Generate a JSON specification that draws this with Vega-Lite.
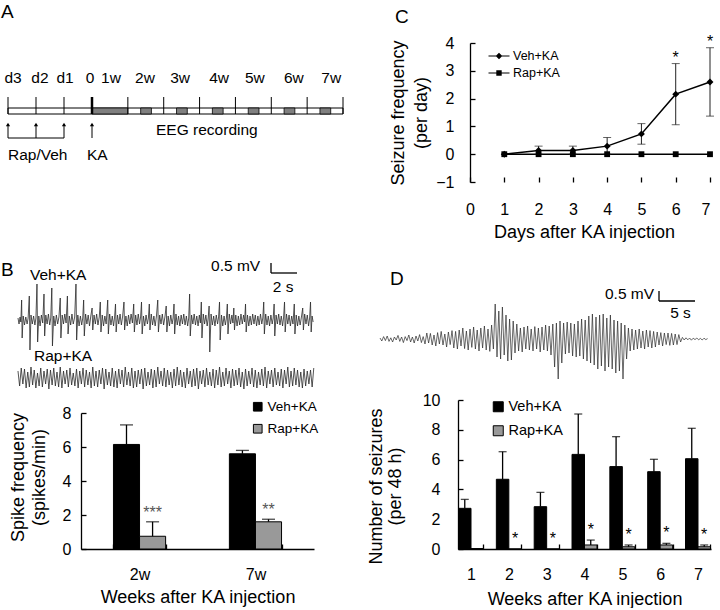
{
"$schema": "https://vega.github.io/schema/vega-lite/v6.json",
"padding": {"top": 2, "left": 0, "right": 0, "bottom": 0},
"background": "white",
"columns": 2,
"align": "none",
"spacing": 23,
"resolve": {"scale": {"color": "independent", "shape": "independent", "xOffset": "independent"}, "legend": {"color": "independent", "shape": "independent"}},
"datasets": {
"vehTrace": [{"t":0,"v":0.1},{"t":0.08,"v":-0.2},{"t":0.16,"v":0.15},{"t":0.22,"v":-0.1},{"t":0.28,"v":1.0},{"t":0.32,"v":-0.9},{"t":0.4,"v":0.2},{"t":0.5,"v":-0.25},{"t":0.6,"v":0.15},{"t":0.7,"v":-0.2},{"t":0.78,"v":0.1},{"t":0.87,"v":1.2},{"t":0.92,"v":-1.5},{"t":1.0,"v":0.25},{"t":1.1,"v":-0.2},{"t":1.2,"v":0.2},{"t":1.3,"v":-0.25},{"t":1.38,"v":0.1},{"t":1.46,"v":1.8},{"t":1.51,"v":-1.1},{"t":1.6,"v":0.2},{"t":1.7,"v":-0.3},{"t":1.8,"v":0.25},{"t":1.9,"v":-0.15},{"t":2.0,"v":1.3},{"t":2.05,"v":-0.8},{"t":2.14,"v":0.25},{"t":2.24,"v":-0.2},{"t":2.34,"v":0.3},{"t":2.44,"v":-0.25},{"t":2.52,"v":0.1},{"t":2.6,"v":1.6},{"t":2.65,"v":-1.3},{"t":2.75,"v":0.2},{"t":2.85,"v":-0.3},{"t":2.95,"v":0.25},{"t":3.05,"v":-0.2},{"t":3.15,"v":0.15},{"t":3.25,"v":1.1},{"t":3.3,"v":-0.9},{"t":3.4,"v":0.25},{"t":3.5,"v":-0.2},{"t":3.6,"v":0.3},{"t":3.7,"v":-0.15},{"t":3.8,"v":1.2},{"t":3.85,"v":-0.7},{"t":3.95,"v":0.2},{"t":4.05,"v":-0.25},{"t":4.15,"v":0.3},{"t":4.25,"v":-0.2},{"t":4.36,"v":0.15},{"t":4.46,"v":1.8},{"t":4.51,"v":-1.0},{"t":4.6,"v":0.25},{"t":4.7,"v":-0.3},{"t":4.8,"v":0.2},{"t":4.9,"v":-0.25},{"t":4.98,"v":0.1},{"t":5.05,"v":1.0},{"t":5.1,"v":-0.8},{"t":5.2,"v":0.3},{"t":5.3,"v":-0.2},{"t":5.4,"v":0.25},{"t":5.5,"v":-0.3},{"t":5.6,"v":0.2},{"t":5.7,"v":0.6},{"t":5.75,"v":-0.5},{"t":5.85,"v":0.25},{"t":5.95,"v":-0.2},{"t":6.05,"v":0.3},{"t":6.15,"v":-0.25},{"t":6.25,"v":0.15},{"t":6.33,"v":0.9},{"t":6.38,"v":-0.6},{"t":6.48,"v":0.25},{"t":6.58,"v":-0.3},{"t":6.68,"v":0.2},{"t":6.78,"v":-0.2},{"t":6.9,"v":1.0},{"t":6.95,"v":-0.7},{"t":7.05,"v":0.3},{"t":7.15,"v":-0.25},{"t":7.25,"v":0.2},{"t":7.35,"v":-0.3},{"t":7.43,"v":0.15},{"t":7.5,"v":0.8},{"t":7.55,"v":-0.6},{"t":7.65,"v":0.25},{"t":7.75,"v":-0.2},{"t":7.85,"v":0.3},{"t":7.95,"v":-0.25},{"t":8.05,"v":0.2},{"t":8.15,"v":0.9},{"t":8.2,"v":-0.5},{"t":8.3,"v":0.2},{"t":8.4,"v":-0.3},{"t":8.5,"v":0.25},{"t":8.6,"v":-0.2},{"t":8.7,"v":0.3},{"t":8.8,"v":-0.15},{"t":8.9,"v":0.8},{"t":8.95,"v":-0.6},{"t":9.05,"v":0.25},{"t":9.15,"v":-0.25},{"t":9.25,"v":0.3},{"t":9.35,"v":-0.2},{"t":9.43,"v":0.15},{"t":9.5,"v":0.9},{"t":9.55,"v":-0.7},{"t":9.65,"v":0.2},{"t":9.75,"v":-0.3},{"t":9.85,"v":0.25},{"t":9.95,"v":-0.2},{"t":10.03,"v":0.1},{"t":10.1,"v":0.8},{"t":10.15,"v":-0.5},{"t":10.25,"v":0.3},{"t":10.35,"v":-0.25},{"t":10.45,"v":0.2},{"t":10.55,"v":-0.3},{"t":10.65,"v":0.2},{"t":10.75,"v":1.0},{"t":10.8,"v":-0.6},{"t":10.9,"v":0.25},{"t":11.0,"v":-0.2},{"t":11.1,"v":0.3},{"t":11.2,"v":-0.25},{"t":11.3,"v":0.15},{"t":11.4,"v":0.7},{"t":11.45,"v":-0.6},{"t":11.55,"v":0.2},{"t":11.65,"v":-0.3},{"t":11.75,"v":0.25},{"t":11.85,"v":-0.2},{"t":11.93,"v":0.1},{"t":12.0,"v":0.8},{"t":12.05,"v":-0.7},{"t":12.15,"v":0.3},{"t":12.25,"v":-0.25},{"t":12.35,"v":0.2},{"t":12.45,"v":-0.3},{"t":12.55,"v":0.25},{"t":12.65,"v":-0.2},{"t":12.75,"v":0.3},{"t":12.85,"v":-0.25},{"t":12.95,"v":0.2},{"t":13.05,"v":-0.3},{"t":13.13,"v":0.1},{"t":13.2,"v":1.3},{"t":13.25,"v":-0.8},{"t":13.35,"v":0.25},{"t":13.45,"v":-0.2},{"t":13.55,"v":0.3},{"t":13.65,"v":-0.25},{"t":13.75,"v":0.2},{"t":13.85,"v":-0.3},{"t":13.95,"v":0.25},{"t":14.03,"v":-0.15},{"t":14.1,"v":0.9},{"t":14.15,"v":-0.9},{"t":14.25,"v":0.3},{"t":14.35,"v":-0.2},{"t":14.45,"v":0.25},{"t":14.55,"v":-0.3},{"t":14.63,"v":0.1},{"t":14.7,"v":0.7},{"t":14.75,"v":-1.6},{"t":14.85,"v":0.3},{"t":14.95,"v":-0.25},{"t":15.05,"v":0.2},{"t":15.15,"v":-0.3},{"t":15.25,"v":0.25},{"t":15.35,"v":-0.2},{"t":15.43,"v":0.15},{"t":15.5,"v":0.9},{"t":15.55,"v":-1.0},{"t":15.65,"v":0.25},{"t":15.75,"v":-0.3},{"t":15.85,"v":0.2},{"t":15.95,"v":-0.25},{"t":16.03,"v":0.1},{"t":16.1,"v":0.8},{"t":16.15,"v":-0.7},{"t":16.25,"v":0.3},{"t":16.35,"v":-0.2},{"t":16.45,"v":0.25},{"t":16.53,"v":-0.15},{"t":16.6,"v":0.6},{"t":16.65,"v":-0.5},{"t":16.75,"v":0.25},{"t":16.85,"v":-0.3},{"t":16.95,"v":0.2},{"t":17.05,"v":-0.25},{"t":17.15,"v":0.3},{"t":17.25,"v":-0.2},{"t":17.35,"v":0.25},{"t":17.43,"v":-0.1},{"t":17.5,"v":0.8},{"t":17.55,"v":-0.6},{"t":17.65,"v":0.25},{"t":17.75,"v":-0.3},{"t":17.85,"v":0.2},{"t":17.95,"v":-0.25},{"t":18.05,"v":0.3},{"t":18.15,"v":-0.2},{"t":18.25,"v":0.25},{"t":18.35,"v":-0.3},{"t":18.45,"v":0.2},{"t":18.55,"v":-0.25},{"t":18.65,"v":0.3},{"t":18.75,"v":-0.2},{"t":18.83,"v":0.1},{"t":18.9,"v":0.9},{"t":18.95,"v":-0.7},{"t":19.05,"v":0.3},{"t":19.15,"v":-0.25},{"t":19.25,"v":0.2},{"t":19.35,"v":-0.3},{"t":19.45,"v":0.25},{"t":19.55,"v":-0.2},{"t":19.63,"v":0.1},{"t":19.7,"v":0.8},{"t":19.75,"v":-0.8},{"t":19.85,"v":0.25},{"t":19.95,"v":-0.2},{"t":20.05,"v":0.3},{"t":20.15,"v":-0.25},{"t":20.25,"v":0.2},{"t":20.35,"v":-0.3},{"t":20.43,"v":0.15},{"t":20.5,"v":0.9},{"t":20.55,"v":-0.6},{"t":20.65,"v":0.3},{"t":20.75,"v":-0.2},{"t":20.85,"v":0.25},{"t":20.95,"v":-0.3},{"t":21.05,"v":0.2},{"t":21.15,"v":-0.2},{"t":21.25,"v":0.8},{"t":21.3,"v":-0.7},{"t":21.4,"v":0.25},{"t":21.5,"v":-0.3},{"t":21.6,"v":0.2},{"t":21.7,"v":-0.25},{"t":21.8,"v":0.15},{"t":21.9,"v":0.6},{"t":21.95,"v":-0.5},{"t":22.05,"v":0.3},{"t":22.15,"v":-0.2},{"t":22.25,"v":0.25},{"t":22.35,"v":-0.3},{"t":22.43,"v":0.1},{"t":22.5,"v":0.9},{"t":22.55,"v":-0.6},{"t":22.62,"v":0.2},{"t":22.7,"v":-0.1}],
"rapTrace": [{"t":0,"v":0.35},{"t":0.125,"v":-0.4},{"t":0.25,"v":0.5},{"t":0.375,"v":-0.3},{"t":0.5,"v":0.45},{"t":0.625,"v":-0.5},{"t":0.75,"v":0.3},{"t":0.875,"v":-0.45},{"t":1,"v":0.55},{"t":1.125,"v":-0.35},{"t":1.25,"v":0.4},{"t":1.375,"v":-0.5},{"t":1.5,"v":0.25},{"t":1.625,"v":-0.4},{"t":1.75,"v":0.5},{"t":1.875,"v":-0.45},{"t":2,"v":0.35},{"t":2.125,"v":-0.3},{"t":2.25,"v":0.45},{"t":2.375,"v":-0.55},{"t":2.5,"v":0.4},{"t":2.625,"v":-0.35},{"t":2.75,"v":0.5},{"t":2.875,"v":-0.4},{"t":3,"v":0.3},{"t":3.125,"v":-0.45},{"t":3.25,"v":0.55},{"t":3.375,"v":-0.5},{"t":3.5,"v":0.35},{"t":3.625,"v":-0.3},{"t":3.75,"v":0.4},{"t":3.875,"v":-0.45},{"t":4,"v":0.5},{"t":4.125,"v":-0.35},{"t":4.25,"v":0.25},{"t":4.375,"v":-0.4},{"t":4.5,"v":0.45},{"t":4.625,"v":-0.5},{"t":4.75,"v":0.35},{"t":4.875,"v":-0.3},{"t":5,"v":0.5},{"t":5.125,"v":-0.45},{"t":5.25,"v":0.4},{"t":5.375,"v":-0.35},{"t":5.5,"v":0.3},{"t":5.625,"v":-0.5},{"t":5.75,"v":0.55},{"t":5.875,"v":-0.4},{"t":6,"v":0.35},{"t":6.125,"v":-0.45},{"t":6.25,"v":0.4},{"t":6.375,"v":-0.3},{"t":6.5,"v":0.5},{"t":6.625,"v":-0.55},{"t":6.75,"v":0.45},{"t":6.875,"v":-0.35},{"t":7,"v":0.3},{"t":7.125,"v":-0.4},{"t":7.25,"v":0.5},{"t":7.375,"v":-0.45},{"t":7.5,"v":0.35},{"t":7.625,"v":-0.5},{"t":7.75,"v":0.45},{"t":7.875,"v":-0.3},{"t":8,"v":0.4},{"t":8.125,"v":-0.45},{"t":8.25,"v":0.55},{"t":8.375,"v":-0.35},{"t":8.5,"v":0.3},{"t":8.625,"v":-0.4},{"t":8.75,"v":0.5},{"t":8.875,"v":-0.5},{"t":9,"v":0.35},{"t":9.125,"v":-0.45},{"t":9.25,"v":0.4},{"t":9.375,"v":-0.3},{"t":9.5,"v":0.45},{"t":9.625,"v":-0.55},{"t":9.75,"v":0.5},{"t":9.875,"v":-0.4},{"t":10,"v":0.3},{"t":10.125,"v":-0.35},{"t":10.25,"v":0.45},{"t":10.375,"v":-0.5},{"t":10.5,"v":0.4},{"t":10.625,"v":-0.45},{"t":10.75,"v":0.55},{"t":10.875,"v":-0.3},{"t":11,"v":0.35},{"t":11.125,"v":-0.4},{"t":11.25,"v":0.5},{"t":11.375,"v":-0.45},{"t":11.5,"v":0.4},{"t":11.625,"v":-0.35},{"t":11.75,"v":0.3},{"t":11.875,"v":-0.5},{"t":12,"v":0.45},{"t":12.125,"v":-0.4},{"t":12.25,"v":0.55},{"t":12.375,"v":-0.35},{"t":12.5,"v":0.4},{"t":12.625,"v":-0.45},{"t":12.75,"v":0.3},{"t":12.875,"v":-0.5},{"t":13,"v":0.5},{"t":13.125,"v":-0.3},{"t":13.25,"v":0.35},{"t":13.375,"v":-0.45},{"t":13.5,"v":0.45},{"t":13.625,"v":-0.4},{"t":13.75,"v":0.5},{"t":13.875,"v":-0.55},{"t":14,"v":0.35},{"t":14.125,"v":-0.3},{"t":14.25,"v":0.4},{"t":14.375,"v":-0.45},{"t":14.5,"v":0.5},{"t":14.625,"v":-0.35},{"t":14.75,"v":0.3},{"t":14.875,"v":-0.4},{"t":15,"v":0.45},{"t":15.125,"v":-0.5},{"t":15.25,"v":0.4},{"t":15.375,"v":-0.35},{"t":15.5,"v":0.55},{"t":15.625,"v":-0.45},{"t":15.75,"v":0.3},{"t":15.875,"v":-0.4},{"t":16,"v":0.5},{"t":16.125,"v":-0.3},{"t":16.25,"v":0.35},{"t":16.375,"v":-0.5},{"t":16.5,"v":0.45},{"t":16.625,"v":-0.4},{"t":16.75,"v":0.4},{"t":16.875,"v":-0.35},{"t":17,"v":0.5},{"t":17.125,"v":-0.45},{"t":17.25,"v":0.3},{"t":17.375,"v":-0.55},{"t":17.5,"v":0.45},{"t":17.625,"v":-0.4},{"t":17.75,"v":0.35},{"t":17.875,"v":-0.3},{"t":18,"v":0.5},{"t":18.125,"v":-0.45},{"t":18.25,"v":0.4},{"t":18.375,"v":-0.5},{"t":18.5,"v":0.3},{"t":18.625,"v":-0.35},{"t":18.75,"v":0.45},{"t":18.875,"v":-0.4},{"t":19,"v":0.55},{"t":19.125,"v":-0.5},{"t":19.25,"v":0.35},{"t":19.375,"v":-0.3},{"t":19.5,"v":0.4},{"t":19.625,"v":-0.45},{"t":19.75,"v":0.5},{"t":19.875,"v":-0.35},{"t":20,"v":0.3},{"t":20.125,"v":-0.4},{"t":20.25,"v":0.45},{"t":20.375,"v":-0.5},{"t":20.5,"v":0.4},{"t":20.625,"v":-0.3},{"t":20.75,"v":0.55},{"t":20.875,"v":-0.45},{"t":21,"v":0.35},{"t":21.125,"v":-0.4},{"t":21.25,"v":0.5},{"t":21.375,"v":-0.35},{"t":21.5,"v":0.4},{"t":21.625,"v":-0.45},{"t":21.75,"v":0.3},{"t":21.875,"v":-0.5},{"t":22,"v":0.45},{"t":22.125,"v":-0.4},{"t":22.25,"v":0.35},{"t":22.375,"v":-0.3},{"t":22.5,"v":0.4},{"t":22.625,"v":-0.45},{"t":22.75,"v":0.5}],
"seizTrace": [{"t":0,"v":0.05},{"t":0.25,"v":-0.1},{"t":0.5,"v":0.12},{"t":0.75,"v":-0.08},{"t":1,"v":0.15},{"t":1.25,"v":-0.12},{"t":1.5,"v":0.06},{"t":1.75,"v":-0.15},{"t":2,"v":0.1},{"t":2.25,"v":-0.05},{"t":2.5,"v":0.18},{"t":2.75,"v":-0.12},{"t":3,"v":0.1},{"t":3.25,"v":-0.18},{"t":3.5,"v":0.12},{"t":3.75,"v":-0.08},{"t":4,"v":0.2},{"t":4.25,"v":-0.15},{"t":4.5,"v":0.1},{"t":4.75,"v":-0.2},{"t":5,"v":0.15},{"t":5.25,"v":-0.1},{"t":5.5,"v":0.22},{"t":5.75,"v":-0.18},{"t":6,"v":0.12},{"t":6.25,"v":-0.25},{"t":6.5,"v":0.3},{"t":6.75,"v":-0.2},{"t":7,"v":0.28},{"t":7.25,"v":-0.3},{"t":7.5,"v":0.2},{"t":7.75,"v":-0.35},{"t":8,"v":0.32},{"t":8.25,"v":-0.25},{"t":8.5,"v":0.38},{"t":8.75,"v":-0.3},{"t":9,"v":0.25},{"t":9.25,"v":-0.4},{"t":9.5,"v":0.35},{"t":9.75,"v":-0.28},{"t":10,"v":0.42},{"t":10.25,"v":-0.45},{"t":10.5,"v":0.38},{"t":10.75,"v":-0.5},{"t":11,"v":0.45},{"t":11.25,"v":-0.35},{"t":11.5,"v":0.55},{"t":11.75,"v":-0.48},{"t":12,"v":0.4},{"t":12.25,"v":-0.55},{"t":12.5,"v":0.5},{"t":12.75,"v":-0.42},{"t":13,"v":0.6},{"t":13.25,"v":-0.5},{"t":13.5,"v":0.45},{"t":13.75,"v":-0.6},{"t":14,"v":0.55},{"t":14.25,"v":-0.45},{"t":14.5,"v":0.65},{"t":14.75,"v":-0.55},{"t":15,"v":0.5},{"t":15.25,"v":-0.62},{"t":15.5,"v":0.7},{"t":15.75,"v":-0.5},{"t":16,"v":1.75},{"t":16.25,"v":-0.9},{"t":16.5,"v":1.4},{"t":16.75,"v":-1.0},{"t":17,"v":1.6},{"t":17.25,"v":-0.8},{"t":17.5,"v":1.2},{"t":17.75,"v":-1.1},{"t":18,"v":1.0},{"t":18.25,"v":-1.05},{"t":18.5,"v":0.9},{"t":18.75,"v":-0.7},{"t":19,"v":0.75},{"t":19.25,"v":-0.6},{"t":19.5,"v":0.55},{"t":19.75,"v":-0.65},{"t":20,"v":0.6},{"t":20.25,"v":-0.5},{"t":20.5,"v":0.65},{"t":20.75,"v":-0.55},{"t":21,"v":0.5},{"t":21.25,"v":-0.6},{"t":21.5,"v":0.62},{"t":21.75,"v":-0.5},{"t":22,"v":0.55},{"t":22.25,"v":-0.65},{"t":22.5,"v":0.6},{"t":22.75,"v":-0.55},{"t":23,"v":0.7},{"t":23.25,"v":-0.6},{"t":23.5,"v":0.65},{"t":23.75,"v":-0.8},{"t":24,"v":0.75},{"t":24.25,"v":-1.4},{"t":24.5,"v":0.8},{"t":24.75,"v":-2.0},{"t":25,"v":0.9},{"t":25.25,"v":-1.2},{"t":25.5,"v":0.8},{"t":25.75,"v":-0.75},{"t":26,"v":0.85},{"t":26.25,"v":-0.7},{"t":26.5,"v":0.8},{"t":26.75,"v":-0.85},{"t":27,"v":0.75},{"t":27.25,"v":-0.9},{"t":27.5,"v":0.9},{"t":27.75,"v":-0.85},{"t":28,"v":1.0},{"t":28.25,"v":-1.0},{"t":28.5,"v":0.95},{"t":28.75,"v":-1.1},{"t":29,"v":1.15},{"t":29.25,"v":-1.2},{"t":29.5,"v":1.25},{"t":29.75,"v":-1.3},{"t":30,"v":1.1},{"t":30.25,"v":-1.5},{"t":30.5,"v":1.2},{"t":30.75,"v":-1.35},{"t":31,"v":1.25},{"t":31.25,"v":-1.6},{"t":31.5,"v":1.05},{"t":31.75,"v":-1.4},{"t":32,"v":1.2},{"t":32.25,"v":-1.5},{"t":32.5,"v":0.95},{"t":32.75,"v":-1.7},{"t":33,"v":0.9},{"t":33.25,"v":-1.6},{"t":33.5,"v":0.8},{"t":33.75,"v":-2.0},{"t":34,"v":0.7},{"t":34.25,"v":-1.0},{"t":34.5,"v":0.55},{"t":34.75,"v":-0.6},{"t":35,"v":0.5},{"t":35.25,"v":-0.55},{"t":35.5,"v":0.45},{"t":35.75,"v":-0.5},{"t":36,"v":0.5},{"t":36.25,"v":-0.45},{"t":36.5,"v":0.4},{"t":36.75,"v":-0.5},{"t":37,"v":0.45},{"t":37.25,"v":-0.4},{"t":37.5,"v":0.42},{"t":37.75,"v":-0.45},{"t":38,"v":0.38},{"t":38.25,"v":-0.4},{"t":38.5,"v":0.35},{"t":38.75,"v":-0.3},{"t":39,"v":0.32},{"t":39.25,"v":-0.35},{"t":39.5,"v":0.3},{"t":39.75,"v":-0.28},{"t":40,"v":0.3},{"t":40.25,"v":-0.32},{"t":40.5,"v":0.28},{"t":40.75,"v":-0.3},{"t":41,"v":0.25},{"t":41.25,"v":-0.28},{"t":41.5,"v":0.22},{"t":41.75,"v":-0.15},{"t":42,"v":0.08},{"t":42.25,"v":-0.05},{"t":42.5,"v":0.06},{"t":42.75,"v":-0.04},{"t":43,"v":0.05},{"t":43.25,"v":-0.06},{"t":43.5,"v":0.04},{"t":43.75,"v":-0.03},{"t":44,"v":0.05},{"t":44.25,"v":-0.04},{"t":44.5,"v":0.03},{"t":44.75,"v":-0.05},{"t":45,"v":0.04},{"t":45.25,"v":-0.03},{"t":45.5,"v":0.02}]
},
"concat": [
{
"columns": 1, "align": "none", "spacing": 0,
"resolve": {"scale": {"color": "independent", "shape": "independent", "xOffset": "independent"}, "legend": {"color": "independent", "shape": "independent"}},
"concat": [
{
"width": 262, "height": 212,
"layer": [
{"data": {"values": [{"label": "A", "x": -3.25}]},
 "mark": {"type": "text", "fontSize": 19, "align": "left", "baseline": "middle"},
 "encoding": {"x": {"field": "x", "type": "quantitative", "scale": {"domain": [-3, 0, 49], "range": [-73, 11, 262], "nice": false, "zero": false}, "axis": null},
  "y": {"datum": 24.3, "type": "quantitative", "scale": {"domain": [0, 21.2], "nice": false, "zero": false}, "axis": null},
  "text": {"field": "label"}}},
{"data": {"values": [{"label": "d3", "x": -2.82}, {"label": "d2", "x": -1.86}, {"label": "d1", "x": -0.96}, {"label": "0", "x": -0.07}, {"label": "1w", "x": 3.7}, {"label": "2w", "x": 10.35}, {"label": "3w", "x": 17.2}, {"label": "4w", "x": 24.8}, {"label": "5w", "x": 31.8}, {"label": "6w", "x": 39.4}, {"label": "7w", "x": 46.7}]},
 "mark": {"type": "text", "fontSize": 15.5, "align": "center", "baseline": "middle"},
 "encoding": {"x": {"field": "x", "type": "quantitative", "axis": null}, "y": {"datum": 17.7, "type": "quantitative", "axis": null}, "text": {"field": "label"}}},
{"data": {"values": [{"from": -3, "to": 49}]},
 "mark": {"type": "rect", "fill": "white", "stroke": "black", "strokeWidth": 1},
 "encoding": {"x": {"field": "from", "type": "quantitative", "axis": null}, "x2": {"field": "to"}, "y": {"datum": 14.7, "type": "quantitative", "axis": null}, "y2": {"datum": 14.1}}},
{"data": {"values": [{"from": 0, "to": 7}, {"from": 9.5, "to": 11.6}, {"from": 16.5, "to": 18.6}, {"from": 23.5, "to": 25.6}, {"from": 30.5, "to": 32.6}, {"from": 37.5, "to": 39.6}, {"from": 44.5, "to": 46.6}]},
 "mark": {"type": "rect", "fill": "#808080", "stroke": "black", "strokeWidth": 0.8},
 "encoding": {"x": {"field": "from", "type": "quantitative", "axis": null}, "x2": {"field": "to"}, "y": {"datum": 14.7, "type": "quantitative", "axis": null}, "y2": {"datum": 14.1}}},
{"data": {"values": [{"x": -3}, {"x": -2}, {"x": -1}, {"x": 0}, {"x": 7}, {"x": 14}, {"x": 21}, {"x": 28}, {"x": 35}, {"x": 42}, {"x": 49}]},
 "mark": {"type": "rule", "color": "black"},
 "encoding": {"x": {"field": "x", "type": "quantitative", "axis": null}, "y": {"datum": 15.8, "type": "quantitative", "axis": null}, "y2": {"datum": 14.1},
  "strokeWidth": {"condition": {"test": "datum.x === 0", "value": 2.5}, "value": 1}}},
{"data": {"values": [{"x": -3}, {"x": -2}, {"x": -1}, {"x": 0}]},
 "mark": {"type": "rule", "color": "black", "strokeWidth": 1},
 "encoding": {"x": {"field": "x", "type": "quantitative", "axis": null}, "y": {"datum": 13.1, "type": "quantitative", "axis": null}, "y2": {"datum": 11.7}}},
{"data": {"values": [{"x": -3}, {"x": -2}, {"x": -1}, {"x": 0}]},
 "mark": {"type": "point", "shape": "triangle-up", "filled": true, "color": "black", "size": 18, "opacity": 1},
 "encoding": {"x": {"field": "x", "type": "quantitative", "axis": null}, "y": {"datum": 13.05, "type": "quantitative", "axis": null}}},
{"data": {"values": [{"from": -3, "to": -1}]},
 "mark": {"type": "rule", "color": "black", "strokeWidth": 1},
 "encoding": {"x": {"field": "from", "type": "quantitative", "axis": null}, "x2": {"field": "to"}, "y": {"datum": 11.7, "type": "quantitative", "axis": null}}},
{"data": {"values": [{"label": "Rap/Veh", "x": -3, "y": 10.0}, {"label": "KA", "x": -0.18, "y": 10.0}, {"label": "EEG recording", "x": 12.5, "y": 12.5}]},
 "mark": {"type": "text", "fontSize": 15.5, "align": "left", "baseline": "middle"},
 "encoding": {"x": {"field": "x", "type": "quantitative", "axis": null}, "y": {"field": "y", "type": "quantitative", "axis": null}, "text": {"field": "label"}}}
]
},
{
"width": 232, "height": 145,
"encoding": {
 "x": {"field": "t", "type": "quantitative", "scale": {"domain": [4.846, 22.69], "nice": false, "zero": false}, "axis": null},
 "y": {"field": "v", "type": "quantitative", "scale": {"domain": [-4, 3.25], "nice": false, "zero": false}, "axis": null}
},
"layer": [
{"data": {"name": "vehTrace"}, "mark": {"type": "line", "strokeWidth": 0.8, "color": "#2a2a2a"}},
{"data": {"name": "rapTrace"}, "mark": {"type": "line", "strokeWidth": 0.8, "color": "#2a2a2a", "yOffset": 58}},
{"data": {"values": [{"t": 19.46, "t2": 19.46, "v": 2.35, "v2": 2.85}, {"t": 19.46, "t2": 21.46, "v": 2.35, "v2": 2.35}]},
 "mark": {"type": "rule", "color": "black", "strokeWidth": 1.3},
 "encoding": {"x2": {"field": "t2"}, "y2": {"field": "v2"}}},
{"data": {"values": [{"label": "B", "t": -1.31, "v": 2.5}]},
 "mark": {"type": "text", "fontSize": 19, "align": "left", "baseline": "middle"},
 "encoding": {"text": {"field": "label"}}},
{"data": {"values": [{"label": "Veh+KA", "t": 0.92, "v": 2.25}, {"label": "Rap+KA", "t": 1.23, "v": -1.8}, {"label": "0.5 mV", "t": 14.85, "v": 2.7}, {"label": "2 s", "t": 19.6, "v": 1.65}]},
 "mark": {"type": "text", "fontSize": 15.5, "align": "left", "baseline": "middle"},
 "encoding": {"text": {"field": "label"}}}
]
},
{
"width": 233, "height": 136,
"data": {"values": [
 {"week": "2w", "group": "Veh+KA", "mean": 6.15, "upper": 7.3, "star": ""},
 {"week": "2w", "group": "Rap+KA", "mean": 0.75, "upper": 1.6, "star": "***"},
 {"week": "7w", "group": "Veh+KA", "mean": 5.6, "upper": 5.8, "star": ""},
 {"week": "7w", "group": "Rap+KA", "mean": 1.6, "upper": 1.75, "star": "**"}
]},
"encoding": {
 "x": {"field": "week", "type": "nominal", "scale": {"paddingInner": 0.55, "paddingOuter": 0.28},
  "axis": {"title": "Weeks after KA injection", "tickBand": "extent", "labelAngle": 0, "labelPadding": 22, "titlePadding": 6, "labelOverlap": false}},
 "xOffset": {"field": "group", "type": "nominal", "sort": ["Veh+KA", "Rap+KA"], "scale": {"paddingInner": 0, "paddingOuter": 0}}
},
"layer": [
{"mark": {"type": "bar", "stroke": "black", "strokeWidth": 1},
 "encoding": {
  "y": {"field": "mean", "type": "quantitative", "scale": {"domain": [0, 8], "nice": false},
   "axis": {"title": ["Spike frequency", "(spikes/min)"], "values": [0, 2, 4, 6, 8], "tickCount": 12, "format": "d", "labelOverlap": false, "labelPadding": 15, "titlePadding": 14, "titleLineHeight": 21, "titleY": 64}},
  "color": {"field": "group", "type": "nominal", "scale": {"domain": ["Veh+KA", "Rap+KA"], "range": ["#000000", "#999999"]},
   "legend": {"title": null, "orient": "none", "legendX": 170, "legendY": -13, "symbolType": "square", "symbolSize": 75, "symbolStrokeColor": "black", "symbolStrokeWidth": 1, "labelFontSize": 13.5, "labelOffset": 3, "rowPadding": 7}}}},
{"mark": {"type": "rule", "color": "black", "strokeWidth": 1.3},
 "encoding": {"y": {"field": "mean", "type": "quantitative"}, "y2": {"field": "upper"}}},
{"mark": {"type": "tick", "orient": "horizontal", "color": "black", "size": 13, "thickness": 1.3},
 "encoding": {"y": {"field": "upper", "type": "quantitative"}}},
{"transform": [{"filter": "datum.star != ''"}],
 "mark": {"type": "text", "color": "#555555", "fontSize": 16, "baseline": "alphabetic", "dy": -4},
 "encoding": {"y": {"field": "upper", "type": "quantitative"}, "text": {"field": "star"}}}
]
}
]
},
{
"columns": 1, "align": "none", "spacing": 0,
"resolve": {"scale": {"color": "independent", "shape": "independent", "xOffset": "independent"}, "legend": {"color": "independent", "shape": "independent"}},
"concat": [
{
"width": 252, "height": 139,
"data": {"values": [
 {"day": 1, "group": "Veh+KA", "mean": 0, "lo": 0, "hi": 0, "star": ""},
 {"day": 2, "group": "Veh+KA", "mean": 0.13, "lo": 0, "hi": 0.29, "star": ""},
 {"day": 3, "group": "Veh+KA", "mean": 0.13, "lo": 0, "hi": 0.29, "star": ""},
 {"day": 4, "group": "Veh+KA", "mean": 0.29, "lo": 0, "hi": 0.6, "star": ""},
 {"day": 5, "group": "Veh+KA", "mean": 0.73, "lo": 0.36, "hi": 1.1, "star": ""},
 {"day": 6, "group": "Veh+KA", "mean": 2.16, "lo": 1.06, "hi": 3.26, "star": "*"},
 {"day": 7, "group": "Veh+KA", "mean": 2.6, "lo": 1.37, "hi": 3.83, "star": "*"},
 {"day": 1, "group": "Rap+KA", "mean": 0, "lo": 0, "hi": 0, "star": ""},
 {"day": 2, "group": "Rap+KA", "mean": 0, "lo": 0, "hi": 0, "star": ""},
 {"day": 3, "group": "Rap+KA", "mean": 0, "lo": 0, "hi": 0, "star": ""},
 {"day": 4, "group": "Rap+KA", "mean": 0, "lo": 0, "hi": 0, "star": ""},
 {"day": 5, "group": "Rap+KA", "mean": 0, "lo": 0, "hi": 0, "star": ""},
 {"day": 6, "group": "Rap+KA", "mean": 0, "lo": 0, "hi": 0, "star": ""},
 {"day": 7, "group": "Rap+KA", "mean": 0, "lo": 0, "hi": 0, "star": ""}
]},
"encoding": {
 "x": {"field": "day", "type": "quantitative", "scale": {"domain": [-0.35, 7], "nice": false, "zero": false},
  "axis": {"title": "Days after KA injection", "values": [0, 1, 2, 3, 4, 5, 6, 7], "tickCount": 12, "format": "d", "domain": false, "labelOverlap": false, "labelPadding": 24, "titlePadding": 6}}
},
"layer": [
{"mark": {"type": "line", "color": "black", "strokeWidth": 1.5},
 "encoding": {"y": {"field": "mean", "type": "quantitative", "scale": {"domain": [-1, 4], "nice": false, "zero": false},
   "axis": {"title": ["Seizure frequency", "(per day)"], "values": [-1, 0, 1, 2, 3, 4], "tickCount": 12, "format": "d", "labelOverlap": false, "offset": -12, "labelPadding": 21, "titlePadding": 5, "titleLineHeight": 23}},
  "detail": {"field": "group"}}},
{"data": {"values": [{}]},
 "mark": {"type": "rule", "color": "black", "strokeWidth": 1.3},
 "encoding": {"x": {"datum": 0, "type": "quantitative"}, "x2": {"datum": 7}, "y": {"datum": -1, "type": "quantitative"}}},
{"transform": [{"filter": "datum.hi > datum.lo"}],
 "mark": {"type": "rule", "color": "#222222", "strokeWidth": 1},
 "encoding": {"y": {"field": "lo", "type": "quantitative"}, "y2": {"field": "hi"}}},
{"transform": [{"filter": "datum.hi > datum.lo"}],
 "mark": {"type": "tick", "orient": "horizontal", "color": "#222222", "size": 8, "thickness": 1},
 "encoding": {"y": {"field": "hi", "type": "quantitative"}}},
{"transform": [{"filter": "datum.hi > datum.lo"}],
 "mark": {"type": "tick", "orient": "horizontal", "color": "#222222", "size": 8, "thickness": 1},
 "encoding": {"y": {"field": "lo", "type": "quantitative"}}},
{"transform": [{"filter": "datum.group === 'Veh+KA'"}],
 "mark": {"type": "point", "shape": "diamond", "filled": true, "color": "black", "size": 48, "opacity": 1},
 "encoding": {"y": {"field": "mean", "type": "quantitative"}}},
{"transform": [{"filter": "datum.group === 'Rap+KA'"}],
 "mark": {"type": "point", "shape": "square", "filled": true, "color": "black", "size": 34, "opacity": 1},
 "encoding": {"y": {"field": "mean", "type": "quantitative"}}},
{"mark": {"type": "point", "filled": true, "color": "black", "size": 144, "opacity": 0},
 "encoding": {"y": {"field": "mean", "type": "quantitative"},
  "shape": {"field": "group", "type": "nominal", "scale": {"domain": ["Veh+KA", "Rap+KA"], "range": ["M-1.75,-0.1H1.75V0.1H-1.75ZM0,-0.55L0.55,0L0,0.55L-0.55,0Z", "M-1.75,-0.1H1.75V0.1H-1.75ZM-0.45,-0.45H0.45V0.45H-0.45Z"]},
   "legend": {"title": null, "orient": "none", "legendX": 34, "legendY": 6, "symbolSize": 144, "symbolOpacity": 1, "symbolFillColor": "black", "labelFontSize": 12.5, "labelOffset": 7, "rowPadding": 3}}}},
{"transform": [{"filter": "datum.star != ''"}],
 "mark": {"type": "text", "color": "black", "fontSize": 16, "baseline": "alphabetic", "dy": -1},
 "encoding": {"y": {"field": "hi", "type": "quantitative"}, "text": {"field": "star"}}},
{"data": {"values": [{"label": "C", "day": -2.19, "mean": 4.94}]},
 "mark": {"type": "text", "color": "black", "fontSize": 19, "align": "left", "baseline": "middle"},
 "encoding": {"y": {"field": "mean", "type": "quantitative"}, "text": {"field": "label"}}}
]
},
{
"width": 252, "height": 151,
"encoding": {
 "x": {"field": "t", "type": "quantitative", "scale": {"domain": [10.833, 45.833], "nice": false, "zero": false}, "axis": null},
 "y": {"field": "v", "type": "quantitative", "scale": {"domain": [-2.65, 4.9], "nice": false, "zero": false}, "axis": null}
},
"layer": [
{"data": {"name": "seizTrace"}, "mark": {"type": "line", "strokeWidth": 0.7, "color": "#2a2a2a"}},
{"data": {"values": [{"t": 38.75, "t2": 38.75, "v": 1.9, "v2": 2.4}, {"t": 38.75, "t2": 43.75, "v": 1.9, "v2": 1.9}]},
 "mark": {"type": "rule", "color": "black", "strokeWidth": 1.3},
 "encoding": {"x2": {"field": "t2"}, "y2": {"field": "v2"}}},
{"data": {"values": [{"label": "D", "t": 1.39, "v": 3.0}]},
 "mark": {"type": "text", "fontSize": 19, "align": "left", "baseline": "middle"},
 "encoding": {"text": {"field": "label"}}},
{"data": {"values": [{"label": "0.5 mV", "t": 31.25, "v": 2.25}, {"label": "5 s", "t": 40.3, "v": 1.3}]},
 "mark": {"type": "text", "fontSize": 15.5, "align": "left", "baseline": "middle"},
 "encoding": {"text": {"field": "label"}}}
]
},
{
"width": 253, "height": 149,
"data": {"values": [
 {"week": "1", "group": "Veh+KA", "mean": 2.73, "upper": 3.33, "star": ""},
 {"week": "2", "group": "Veh+KA", "mean": 4.68, "upper": 6.53, "star": ""},
 {"week": "3", "group": "Veh+KA", "mean": 2.84, "upper": 3.8, "star": ""},
 {"week": "4", "group": "Veh+KA", "mean": 6.35, "upper": 9.06, "star": ""},
 {"week": "5", "group": "Veh+KA", "mean": 5.53, "upper": 7.54, "star": ""},
 {"week": "6", "group": "Veh+KA", "mean": 5.19, "upper": 6.02, "star": ""},
 {"week": "7", "group": "Veh+KA", "mean": 6.06, "upper": 8.1, "star": ""},
 {"week": "1", "group": "Rap+KA", "mean": 0.03, "upper": 0.03, "star": ""},
 {"week": "2", "group": "Rap+KA", "mean": 0, "upper": 0, "star": "*"},
 {"week": "3", "group": "Rap+KA", "mean": 0, "upper": 0, "star": "*"},
 {"week": "4", "group": "Rap+KA", "mean": 0.27, "upper": 0.6, "star": "*"},
 {"week": "5", "group": "Rap+KA", "mean": 0.15, "upper": 0.27, "star": "*"},
 {"week": "6", "group": "Rap+KA", "mean": 0.27, "upper": 0.38, "star": "*"},
 {"week": "7", "group": "Rap+KA", "mean": 0.15, "upper": 0.27, "star": "*"}
]},
"encoding": {
 "x": {"field": "week", "type": "nominal", "scale": {"paddingInner": 0.34, "paddingOuter": 0.014},
  "axis": {"title": "Weeks after KA injection", "tickBand": "extent", "labelAngle": 0, "labelOverlap": false, "labelPadding": 22, "titlePadding": 8}},
 "xOffset": {"field": "group", "type": "nominal", "sort": ["Veh+KA", "Rap+KA"], "scale": {"paddingInner": 0, "paddingOuter": 0}}
},
"layer": [
{"mark": {"type": "bar", "stroke": "black", "strokeWidth": 1},
 "encoding": {
  "y": {"field": "mean", "type": "quantitative", "scale": {"domain": [0, 10], "nice": false},
   "axis": {"title": ["Number of seizures", "(per 48 h)"], "values": [0, 2, 4, 6, 8, 10], "tickCount": 12, "format": "d", "labelOverlap": false, "labelPadding": 23, "titlePadding": 18, "titleLineHeight": 19, "titleY": 86}},
  "color": {"field": "group", "type": "nominal", "scale": {"domain": ["Veh+KA", "Rap+KA"], "range": ["#000000", "#999999"]},
   "legend": {"title": null, "orient": "none", "legendX": 33, "legendY": -0.5, "symbolType": "square", "symbolSize": 100, "symbolStrokeColor": "black", "symbolStrokeWidth": 1, "labelFontSize": 14.5, "labelOffset": 3, "rowPadding": 8}}}},
{"transform": [{"filter": "datum.upper > datum.mean"}],
 "mark": {"type": "rule", "color": "black", "strokeWidth": 1.3},
 "encoding": {"y": {"field": "mean", "type": "quantitative"}, "y2": {"field": "upper"}}},
{"transform": [{"filter": "datum.upper > datum.mean"}],
 "mark": {"type": "tick", "orient": "horizontal", "color": "black", "size": 8, "thickness": 1.3},
 "encoding": {"y": {"field": "upper", "type": "quantitative"}}},
{"transform": [{"filter": "datum.star != ''"}],
 "mark": {"type": "text", "color": "black", "fontSize": 16, "baseline": "alphabetic", "dy": -5},
 "encoding": {"y": {"field": "upper", "type": "quantitative"}, "text": {"field": "star"}}}
]
}
]
}
],
"config": {
 "font": "Liberation Sans",
 "view": {"stroke": null},
 "axis": {"labelFont": "Liberation Sans", "titleFont": "Liberation Sans", "labelFontSize": 16, "titleFontSize": 18, "titleFontWeight": "normal", "labelColor": "black", "titleColor": "black", "domainColor": "black", "tickColor": "black", "domainWidth": 1.3, "tickWidth": 1.3, "grid": false, "tickSize": -5, "labelOverlap": false},
 "legend": {"labelFont": "Liberation Sans", "labelColor": "black", "padding": 0},
 "text": {"font": "Liberation Sans", "color": "black"}
}
}
